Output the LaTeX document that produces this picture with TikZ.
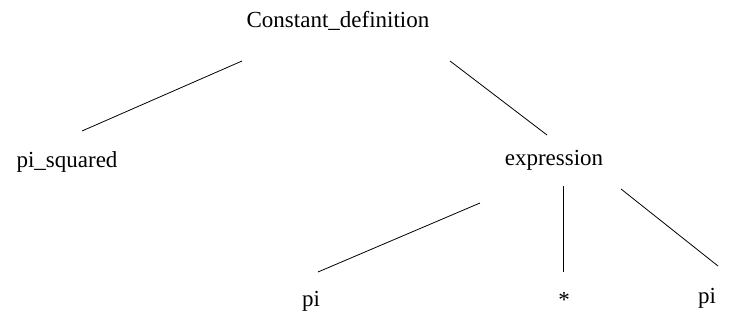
\documentclass[tikz,border=0pt]{standalone}
\usepackage{fontspec}
\setmainfont{Liberation Serif}
\begin{document}
\begin{tikzpicture}[x=1pt,y=-1pt,
  lbl/.style={anchor=base,inner sep=0pt,font=\fontsize{23}{26}\selectfont},
  edge/.style={draw=black,line width=0.8pt}]
\useasboundingbox (0,0) rectangle (730,320);
\node[lbl] (root) at (338,28) {Constant\_definition};
\node[lbl] (sq) at (67,168) {pi\_squared};
\node[lbl] (expr) at (554,166) {expression};
\node[lbl] (pi1) at (311,306) {pi};
\node[lbl] (star) at (564,307) {*};
\node[lbl] (pi2) at (707,303) {pi};
\coordinate (a1) at (242,61); \coordinate (a2) at (82,131);
\coordinate (b1) at (450,61); \coordinate (b2) at (547,135);
\coordinate (c1) at (480,203); \coordinate (c2) at (318,272);
\coordinate (d1) at (563,186); \coordinate (d2) at (563,272);
\coordinate (e1) at (621,189); \coordinate (e2) at (718,266);
\draw[edge] (a1) -- (a2);
\draw[edge] (b1) -- (b2);
\draw[edge] (c1) -- (c2);
\draw[edge] (d1) -- (d2);
\draw[edge] (e1) -- (e2);
\end{tikzpicture}
\end{document}
